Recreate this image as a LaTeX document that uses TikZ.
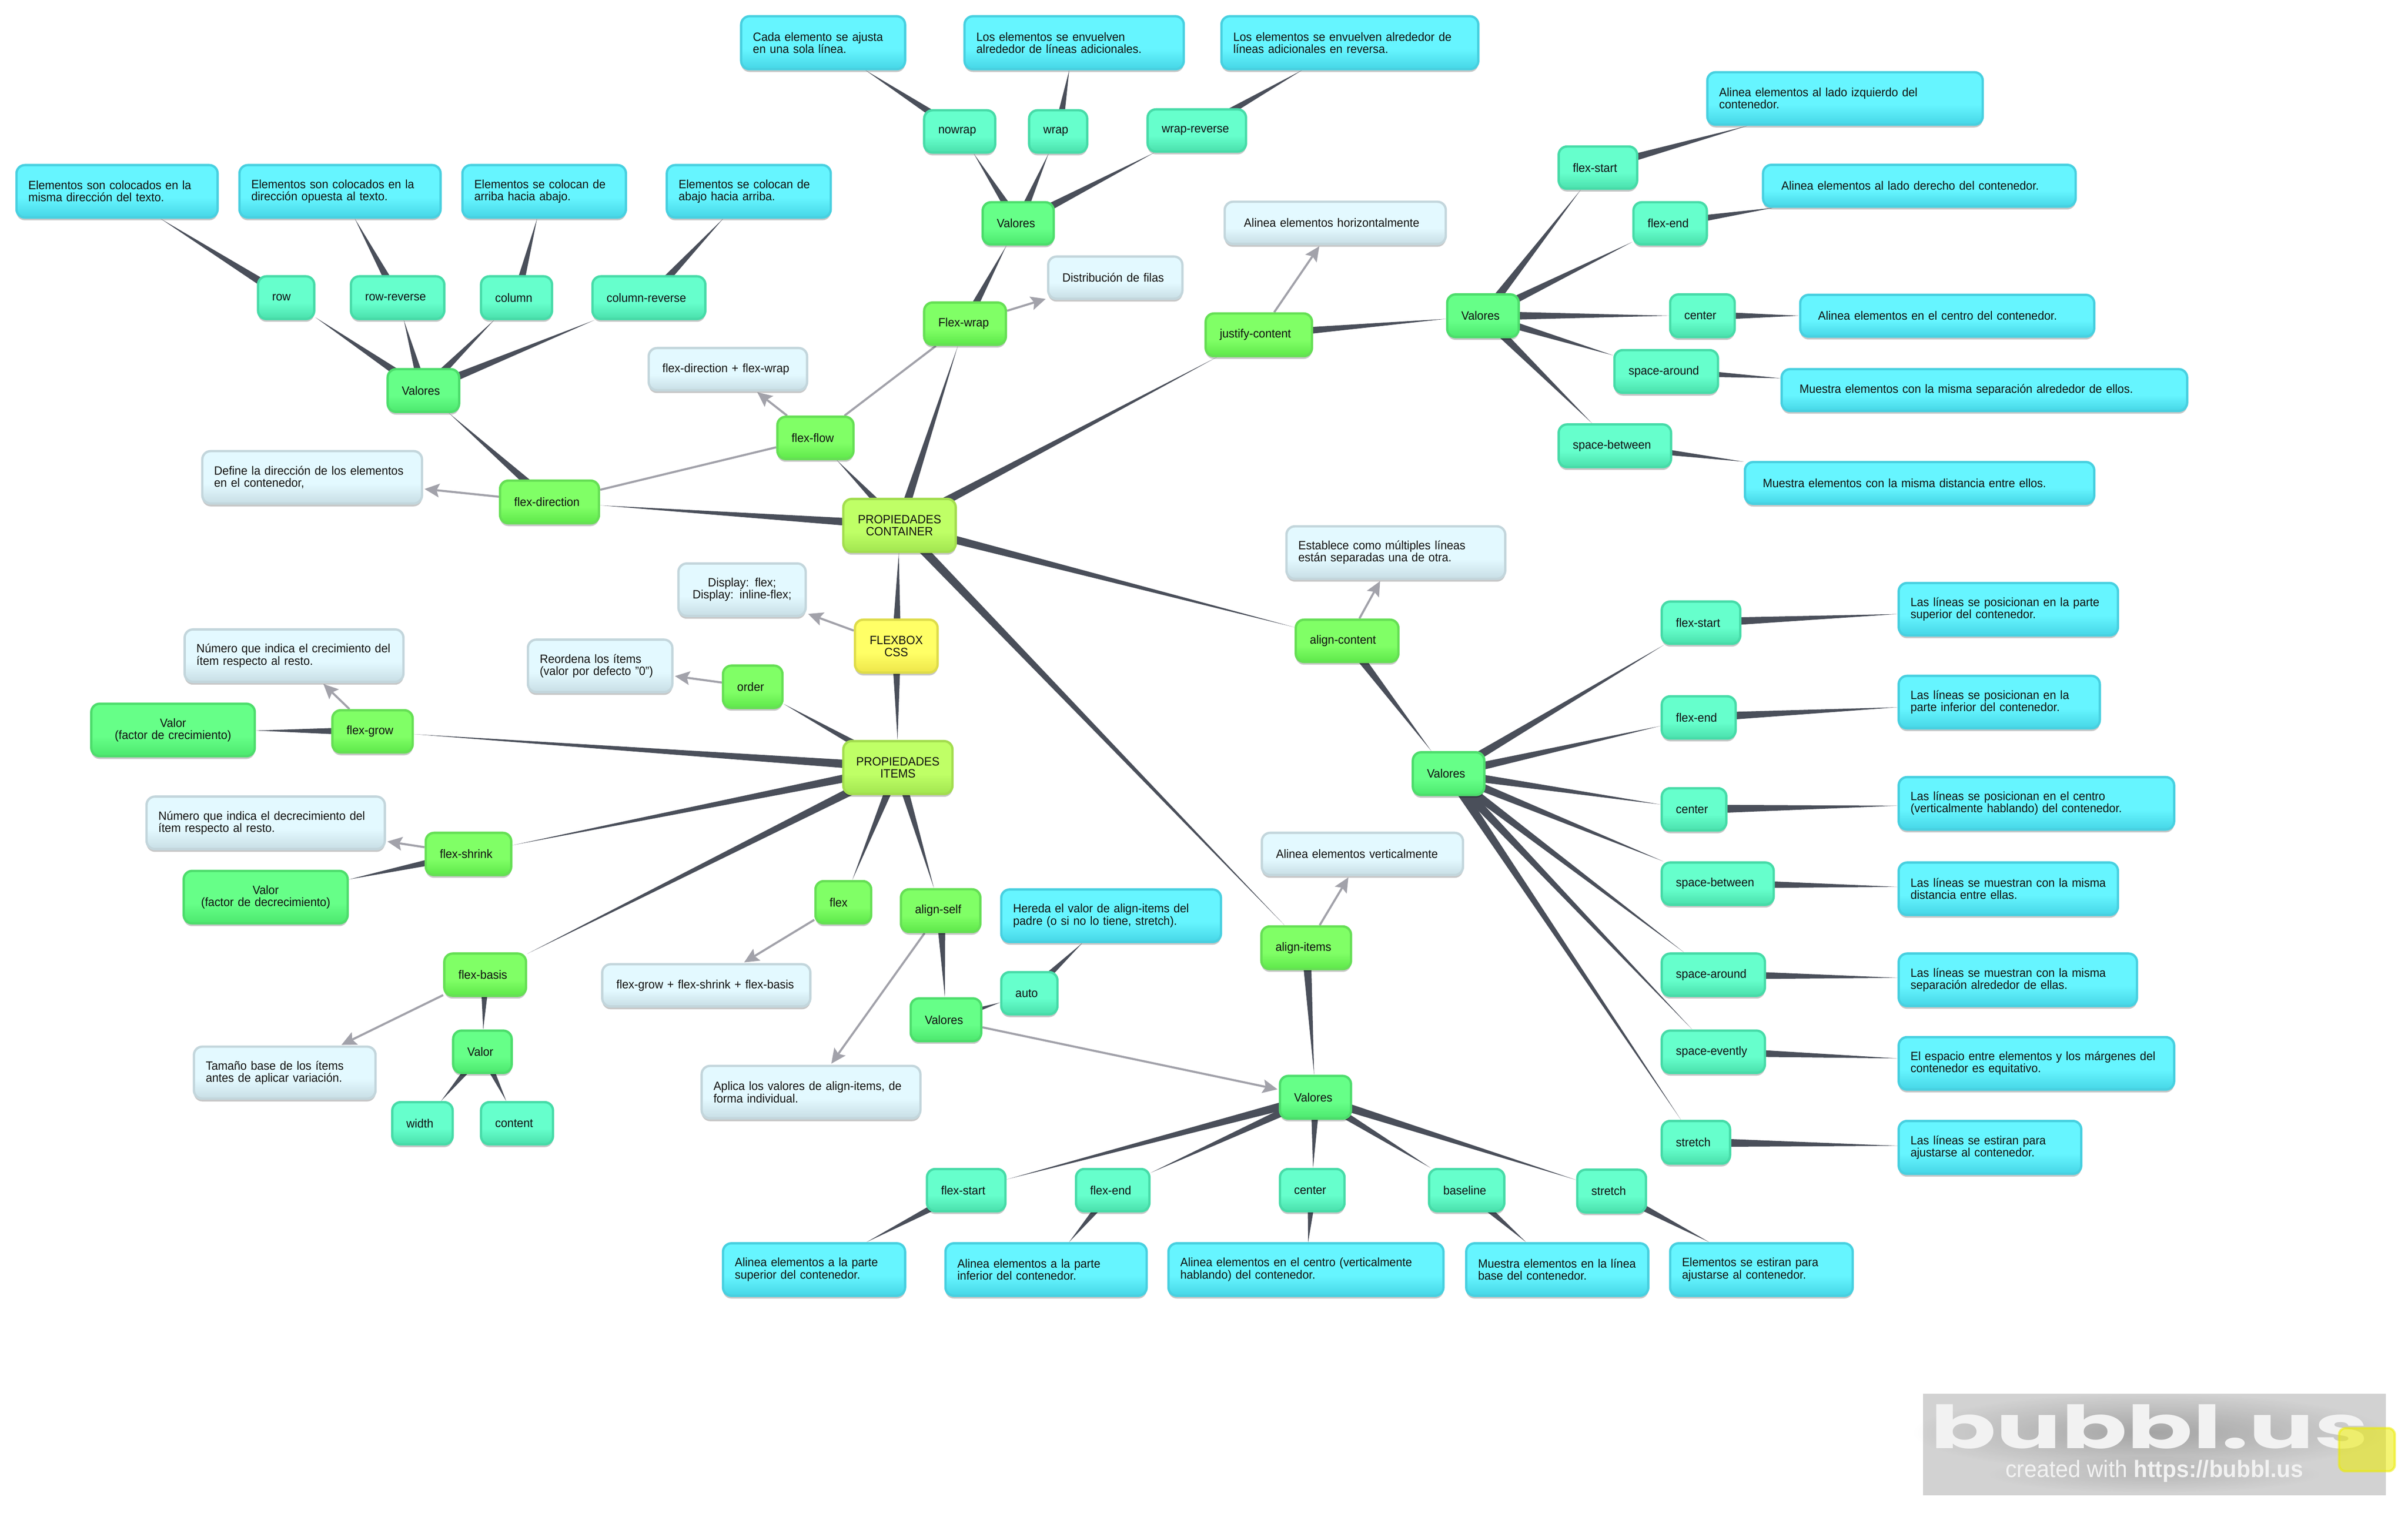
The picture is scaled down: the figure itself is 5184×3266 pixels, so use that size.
\documentclass[tikz,border=0pt]{standalone}
\usepackage{fontspec}
\setmainfont[FakeStretch=0.955]{Liberation Sans}
\newfontfamily\logofont{Poppins}
\usetikzlibrary{arrows.meta,backgrounds,calc,fadings,shadows}

\definecolor{azulA}{HTML}{66F5FF}
\definecolor{azulB}{HTML}{46D6E6}
\definecolor{azulC}{HTML}{48D0E0}
\definecolor{tealA}{HTML}{66FFCC}
\definecolor{tealB}{HTML}{4AE0AC}
\definecolor{tealC}{HTML}{47DBA8}
\definecolor{grupoA}{HTML}{66FF88}
\definecolor{grupoB}{HTML}{4CE86E}
\definecolor{grupoC}{HTML}{4DDD6C}
\definecolor{propA}{HTML}{80FF66}
\definecolor{propB}{HTML}{5EE84A}
\definecolor{propC}{HTML}{66DF55}
\definecolor{notaA}{HTML}{E3F9FF}
\definecolor{notaB}{HTML}{C8DEE5}
\definecolor{notaC}{HTML}{C3D6DC}
\definecolor{raizA}{HTML}{BFFF66}
\definecolor{raizB}{HTML}{A2E650}
\definecolor{raizC}{HTML}{A3DD4F}
\definecolor{inicioA}{HTML}{FFFF66}
\definecolor{inicioB}{HTML}{EEE64A}
\definecolor{inicioC}{HTML}{DEDC4A}
\definecolor{ramagris}{HTML}{4A4F5A}
\definecolor{flechagris}{HTML}{A2A2AA}
\definecolor{tinta}{HTML}{111111}
\definecolor{logofondo}{HTML}{D2D2D2}
\definecolor{logoletra}{HTML}{F2F2F2}
\definecolor{logoamarillo}{HTML}{ECEC00}
\colorlet{burA}{white}
\colorlet{burB}{white}

\pgfdeclareverticalshading[burA,burB]{burbujafondo}{100bp}{color(0bp)=(burB); color(25bp)=(burB); color(44bp)=(burA); color(100bp)=(burA)}
\tikzfading[name=halo, inner color=transparent!0, outer color=transparent!100]

\newcommand{\nodefont}{\fontsize{26}{26}\selectfont\exhyphenpenalty=10000\hyphenpenalty=10000}

\tikzset{
  burbuja/.style n args={3}{/utils/exec={\colorlet{burA}{#1}\colorlet{burB}{#2}}, draw=#3, shade, shading=burbujafondo,
    line width=5pt, rounded corners=18pt, inner sep=0pt, text=tinta, font=\nodefont, align=left,
    drop shadow={shadow xshift=0pt, shadow yshift=-6pt, opacity=.22, fill=black}},
  caja/.style n args={3}{minimum width=#1pt-5pt, minimum height=#2pt-5pt, text width=#1pt-#3pt-#3pt},
  texto/.style={burbuja={azulA}{azulB}{azulC}},
  opcion/.style={burbuja={tealA}{tealB}{tealC}},
  grupo/.style={burbuja={grupoA}{grupoB}{grupoC}},
  prop/.style={burbuja={propA}{propB}{propC}},
  nota/.style={burbuja={notaA}{notaB}{notaC}},
  raiz/.style={burbuja={raizA}{raizB}{raizC}, align=center},
  inicio/.style={burbuja={inicioA}{inicioB}{inicioC}, align=center},
  rama/.style={draw=none, fill=ramagris, to path={
    \pgfextra{\path (\tikztostart.center) -- (\tikztotarget) coordinate[pos=1] (tip);}
    ($(\tikztostart.center)!10pt!90:(tip)$) -- ($(\tikztostart.center)!10pt!-90:(tip)$) -- (tip) -- cycle}},
  enlace/.style={draw=flechagris, line width=4.5pt},
  flecha/.style={enlace, -{Stealth[length=32pt,width=30pt,inset=6pt,line width=0pt]}, shorten >=3pt}
}

\begin{document}
\begin{tikzpicture}[x=1pt,y=-1pt]
  \useasboundingbox (0,0) rectangle (5184,3266);

  % centro
  \node (flexbox)[inicio, caja={183}{119}{10}] at (1929.5,1391.5) {FLEXBOX\\CSS};
  \node (container)[raiz, caja={247}{119}{10}] at (1936.5,1131.5) {PROPIEDADES\\CONTAINER};
  \node (items)[raiz, caja={240}{119}{10}] at (1933,1653) {PROPIEDADES\\ITEMS};
  \node (nFlexbox)[nota, align=center, caja={279}{118}{10}] at (1597.5,1270) {Display: flex;\\Display: inline-flex;};

  % flex-direction
  \node (pDirection)[prop, caja={218}{97}{33}] at (1183,1081) {flex-direction};
  \node (nDefine)[nota, caja={478}{118}{28}] at (672,1028) {Define la dirección de los elementos\\en el contenedor,};
  \node (vDir)[grupo, caja={159}{97}{33}] at (911.5,841) {Valores};
  \node (oRow)[opcion, caja={126}{97}{33}] at (616,641) {row};
  \node (oRowRev)[opcion, caja={206}{97}{33}] at (856,641) {row-reverse};
  \node (oColumn)[opcion, caja={158}{97}{33}] at (1112,641) {column};
  \node (oColumnRev)[opcion, caja={248}{97}{33}] at (1397,641) {column-reverse};
  \node (tRow)[texto, caja={438}{118}{28}] at (252,412) {Elementos son colocados en la\\misma dirección del texto.};
  \node (tRowRev)[texto, caja={438}{118}{28}] at (732,412) {Elementos son colocados en la\\dirección opuesta al texto.};
  \node (tColumn)[texto, caja={357}{118}{28}] at (1171.5,412) {Elementos se colocan de\\arriba hacia abajo.};
  \node (tColumnRev)[texto, caja={358}{118}{28}] at (1612,412) {Elementos se colocan de\\abajo hacia arriba.};

  % flex-flow
  \node (pFlow)[prop, caja={169}{96}{33}] at (1755.5,943) {flex-flow};
  \node (nFlow)[nota, caja={346}{96}{32}] at (1567,795) {flex-direction + flex-wrap};

  % flex-wrap
  \node (pWrap)[prop, caja={181}{96}{33}] at (2077.5,697) {Flex-wrap};
  \node (nWrap)[nota, caja={294}{96}{33}] at (2401,598) {Distribución de filas};
  \node (vWrap)[grupo, caja={158}{96}{33}] at (2192,481) {Valores};
  \node (oNowrap)[opcion, caja={158}{96}{33}] at (2066,283) {nowrap};
  \node (oWrap)[opcion, caja={130}{96}{33}] at (2278,283) {wrap};
  \node (oWrapRev)[opcion, caja={217}{96}{33}] at (2576.5,281) {wrap-reverse};
  \node (tNowrap)[texto, caja={358}{119}{28}] at (1772,92) {Cada elemento se ajusta\\en una sola línea.};
  \node (tWrap)[texto, caja={477}{119}{28}] at (2312.5,92) {Los elementos se envuelven\\alrededor de líneas adicionales.};
  \node (tWrapRev)[texto, caja={558}{119}{28}] at (2906,92) {Los elementos se envuelven alrededor de\\líneas adicionales en reversa.};

  % justify-content
  \node (pJustify)[prop, caja={234}{97}{33}] at (2710,721) {justify-content};
  \node (nJustify)[nota, caja={481}{96}{44}] at (2874.5,480) {Alinea elementos horizontalmente};
  \node (vJustify)[grupo, caja={159}{97}{33}] at (3192.5,680) {Valores};
  \node (oJStart)[opcion, caja={174}{96}{33}] at (3440,361) {flex-start};
  \node (oJEnd)[opcion, caja={163}{96}{33}] at (3595.5,481) {flex-end};
  \node (oJCenter)[opcion, caja={144}{97}{33}] at (3665,680) {center};
  \node (oJAround)[opcion, caja={228}{97}{33}] at (3587,800) {space-around};
  \node (oJBetween)[opcion, caja={247}{97}{33}] at (3476.5,960) {space-between};
  \node (tJStart)[texto, caja={598}{118}{28}] at (3972,212) {Alinea elementos al lado izquierdo del\\contenedor.};
  \node (tJEnd)[texto, caja={678}{95}{42}] at (4132,400) {Alinea elementos al lado derecho del contenedor.};
  \node (tJCenter)[texto, caja={638}{95}{41}] at (4192,680) {Alinea elementos en el centro del contenedor.};
  \node (tJAround)[texto, caja={878}{95}{41}] at (4272,840) {Muestra elementos con la misma separación alrededor de ellos.};
  \node (tJBetween)[texto, caja={757}{95}{41}] at (4132.5,1040) {Muestra elementos con la misma distancia entre ellos.};

  % align-content
  \node (pContent)[prop, caja={226}{96}{33}] at (2900,1380) {align-content};
  \node (nContent)[nota, caja={476}{118}{28}] at (3005,1190) {Establece como múltiples líneas\\están separadas una de otra.};
  \node (vContent)[grupo, caja={159}{97}{33}] at (3118.5,1666) {Valores};
  \node (oCStart)[opcion, caja={174}{96}{33}] at (3662,1341) {flex-start};
  \node (oCEnd)[opcion, caja={164}{96}{33}] at (3657,1545) {flex-end};
  \node (oCCenter)[opcion, caja={144}{96}{33}] at (3647,1743) {center};
  \node (oCBetween)[opcion, caja={246}{96}{33}] at (3698,1903) {space-between};
  \node (oCAround)[opcion, caja={227}{96}{33}] at (3688.5,2099) {space-around};
  \node (oCEvenly)[opcion, caja={227}{96}{33}] at (3688.5,2265) {space-evently};
  \node (oCStretch)[opcion, caja={152}{97}{33}] at (3651,2460) {stretch};
  \node (tCStart)[texto, caja={477}{118}{28}] at (4323.5,1312) {Las líneas se posicionan en la parte\\superior del contenedor.};
  \node (tCEnd)[texto, caja={438}{118}{28}] at (4304,1512) {Las líneas se posicionan en la\\parte inferior del contenedor.};
  \node (tCCenter)[texto, caja={598}{118}{28}] at (4384,1730) {Las líneas se posicionan en el centro\\(verticalmente hablando) del contenedor.};
  \node (tCBetween)[texto, caja={477}{118}{28}] at (4323.5,1914) {Las líneas se muestran con la misma\\distancia entre ellas.};
  \node (tCAround)[texto, caja={518}{118}{28}] at (4344,2110) {Las líneas se muestran con la misma\\separación alrededor de ellas.};
  \node (tCEvenly)[texto, caja={598}{118}{28}] at (4384,2290) {El espacio entre elementos y los márgenes del\\contenedor es equitativo.};
  \node (tCStretch)[texto, caja={398}{119}{28}] at (4284,2471) {Las líneas se estiran para\\ajustarse al contenedor.};

  % align-items
  \node (pAlignItems)[prop, caja={198}{97}{33}] at (2812,2041) {align-items};
  \node (nItems)[nota, caja={438}{96}{33}] at (2933,1839) {Alinea elementos verticalmente};
  \node (vItems)[grupo, caja={158}{97}{33}] at (2832,2363) {Valores};
  \node (oIStart)[opcion, caja={174}{96}{33}] at (2080,2563) {flex-start};
  \node (oIEnd)[opcion, caja={163}{96}{33}] at (2395.5,2563) {flex-end};
  \node (oICenter)[opcion, caja={144}{96}{33}] at (2825,2563) {center};
  \node (oIBase)[opcion, caja={167}{96}{33}] at (3157.5,2563) {baseline};
  \node (oIStretch)[opcion, caja={153}{97}{33}] at (3469.5,2565) {stretch};
  \node (tIStart)[texto, caja={397}{118}{28}] at (1752.5,2734) {Alinea elementos a la parte\\superior del contenedor.};
  \node (tIEnd)[texto, caja={438}{118}{28}] at (2252,2734) {Alinea elementos a la parte\\inferior del contenedor.};
  \node (tICenter)[texto, caja={597}{118}{28}] at (2811.5,2734) {Alinea elementos en el centro (verticalmente\\hablando) del contenedor.};
  \node (tIBase)[texto, caja={397}{118}{28}] at (3352.5,2734) {Muestra elementos en la línea\\base del contenedor.};
  \node (tIStretch)[texto, caja={398}{118}{28}] at (3792,2734) {Elementos se estiran para\\ajustarse al contenedor.};

  % items
  \node (pOrder)[prop, caja={133}{96}{33}] at (1620.5,1479) {order};
  \node (nOrder)[nota, caja={316}{118}{28}] at (1292,1434) {Reordena los ítems\\(valor por defecto "0")};
  \node (pGrow)[prop, caja={178}{96}{33}] at (802,1575) {flex-grow};
  \node (nGrow)[nota, caja={476}{118}{28}] at (633,1412) {Número que indica el crecimiento del\\ítem respecto al resto.};
  \node (vGrow)[grupo, align=center, caja={357}{118}{10}] at (372.5,1572) {Valor\\(factor de crecimiento)};
  \node (pShrink)[prop, caja={189}{96}{33}] at (1008.5,1839) {flex-shrink};
  \node (nShrink)[nota, caja={518}{118}{28}] at (572,1772) {Número que indica el decrecimiento del\\ítem respecto al resto.};
  \node (vShrink)[grupo, align=center, caja={358}{118}{10}] at (572,1932) {Valor\\(factor de decrecimiento)};
  \node (pBasis)[prop, caja={181}{96}{33}] at (1044.5,2099) {flex-basis};
  \node (nBasis)[nota, caja={396}{117}{28}] at (613,2310) {Tamaño base de los ítems\\antes de aplicar variación.};
  \node (vBasis)[grupo, caja={131}{96}{33}] at (1038.5,2265) {Valor};
  \node (oWidth)[opcion, caja={135}{96}{33}] at (909.5,2419) {width};
  \node (oContent)[opcion, caja={160}{96}{33}] at (1113,2419) {content};
  \node (pFlex)[prop, caja={125}{96}{33}] at (1815.5,1943) {flex};
  \node (nFlexSum)[nota, caja={453}{96}{33}] at (1520.5,2122) {flex-grow + flex-shrink + flex-basis};
  \node (pSelf)[prop, caja={176}{97}{33}] at (2025,1961) {align-self};
  \node (nSelf)[nota, caja={476}{118}{28}] at (1746,2352) {Aplica los valores de align-items, de\\forma individual.};
  \node (vSelf)[grupo, caja={157}{97}{33}] at (2036.5,2196) {Valores};
  \node (oAuto)[opcion, caja={126}{96}{33}] at (2216,2139) {auto};
  \node (tAuto)[texto, caja={478}{118}{28}] at (2392,1972) {Hereda el valor de align-items del\\padre (o si no lo tiene, stretch).};

  \begin{scope}[on background layer]
    \fill[white] (0,0) rectangle (5184,3266);
    % ramas
    \path (flexbox) edge[rama] (container);
    \path (flexbox) edge[rama] (items);
    \path (container) edge[rama] (pDirection);
    \path (container) edge[rama] (pFlow);
    \path (container) edge[rama] (pWrap);
    \path (container) edge[rama] (pJustify);
    \path (container) edge[rama] (pContent);
    \path (container) edge[rama] (pAlignItems);
    \path (pDirection) edge[rama] (vDir);
    \path (vDir) edge[rama] (oRow);
    \path (vDir) edge[rama] (oRowRev);
    \path (vDir) edge[rama] (oColumn);
    \path (vDir) edge[rama] (oColumnRev);
    \path (oRow) edge[rama] (tRow);
    \path (oRowRev) edge[rama] (tRowRev);
    \path (oColumn) edge[rama] (tColumn);
    \path (oColumnRev) edge[rama] (tColumnRev);
    \path (pWrap) edge[rama] (vWrap);
    \path (vWrap) edge[rama] (oNowrap);
    \path (vWrap) edge[rama] (oWrap);
    \path (vWrap) edge[rama] (oWrapRev);
    \path (oNowrap) edge[rama] (tNowrap);
    \path (oWrap) edge[rama] (tWrap);
    \path (oWrapRev) edge[rama] (tWrapRev);
    \path (pJustify) edge[rama] (vJustify);
    \path (vJustify) edge[rama] (oJStart);
    \path (vJustify) edge[rama] (oJEnd);
    \path (vJustify) edge[rama] (oJCenter);
    \path (vJustify) edge[rama] (oJAround);
    \path (vJustify) edge[rama] (oJBetween);
    \path (oJStart) edge[rama] (tJStart);
    \path (oJEnd) edge[rama] (tJEnd);
    \path (oJCenter) edge[rama] (tJCenter);
    \path (oJAround) edge[rama] (tJAround);
    \path (oJBetween) edge[rama] (tJBetween);
    \path (pContent) edge[rama] (vContent);
    \path (vContent) edge[rama] (oCStart);
    \path (vContent) edge[rama] (oCEnd);
    \path (vContent) edge[rama] (oCCenter);
    \path (vContent) edge[rama] (oCBetween);
    \path (vContent) edge[rama] (oCAround);
    \path (vContent) edge[rama] (oCEvenly);
    \path (vContent) edge[rama] (oCStretch);
    \path (oCStart) edge[rama] (tCStart);
    \path (oCEnd) edge[rama] (tCEnd);
    \path (oCCenter) edge[rama] (tCCenter);
    \path (oCBetween) edge[rama] (tCBetween);
    \path (oCAround) edge[rama] (tCAround);
    \path (oCEvenly) edge[rama] (tCEvenly);
    \path (oCStretch) edge[rama] (tCStretch);
    \path (pAlignItems) edge[rama] (vItems);
    \path (vItems) edge[rama] (oIStart);
    \path (vItems) edge[rama] (oIEnd);
    \path (vItems) edge[rama] (oICenter);
    \path (vItems) edge[rama] (oIBase);
    \path (vItems) edge[rama] (oIStretch);
    \path (oIStart) edge[rama] (tIStart);
    \path (oIEnd) edge[rama] (tIEnd);
    \path (oICenter) edge[rama] (tICenter);
    \path (oIBase) edge[rama] (tIBase);
    \path (oIStretch) edge[rama] (tIStretch);
    \path (items) edge[rama] (pOrder);
    \path (items) edge[rama] (pGrow);
    \path (items) edge[rama] (pShrink);
    \path (items) edge[rama] (pBasis);
    \path (items) edge[rama] (pFlex);
    \path (items) edge[rama] (pSelf);
    \path (pGrow) edge[rama] (vGrow);
    \path (pShrink) edge[rama] (vShrink);
    \path (pBasis) edge[rama] (vBasis);
    \path (vBasis) edge[rama] (oWidth);
    \path (vBasis) edge[rama] (oContent);
    \path (pSelf) edge[rama] (vSelf);
    \path (vSelf) edge[rama] (oAuto);
    \path (oAuto) edge[rama] (tAuto);
    % flechas
    \path (flexbox) edge[flecha] (nFlexbox);
    \path (pDirection) edge[flecha] (nDefine);
    \path (pFlow) edge[flecha] (nFlow);
    \path (pWrap) edge[flecha] (nWrap);
    \path (pJustify) edge[flecha] (nJustify);
    \path (pContent) edge[flecha] (nContent);
    \path (pAlignItems) edge[flecha] (nItems);
    \path (pOrder) edge[flecha] (nOrder);
    \path (pGrow) edge[flecha] (nGrow);
    \path (pShrink) edge[flecha] (nShrink);
    \path (pFlex) edge[flecha] (nFlexSum);
    \path (pBasis) edge[flecha] (nBasis);
    \path (pSelf) edge[flecha] (nSelf);
    \path (vSelf) edge[flecha] (vItems);
    \path (pDirection) edge[enlace] (pFlow);
    \path (pFlow) edge[enlace] (pWrap);
  \end{scope}

  % marca
  \fill[logofondo] (4140,3002) rectangle (5136,3220);
  \fill[black, opacity=.22, path fading=halo] (4627,3085) ellipse (510 and 85);
  \fill[black, opacity=.12, path fading=halo] (4638,3175) ellipse (360 and 40);
  \node (logoMarca)[text=logoletra, inner sep=0pt, font=\fontsize{128}{128}\logofont\bfseries\selectfont, xscale=1.63, transform shape] at (4627,3072) {bubbl.us};
  \node (logoPie)[text=logoletra, inner sep=0pt, font=\fontsize{51}{51}\selectfont] at (4638,3168) {created with \textbf{https://bubbl.us}};
  \node (logoNota)[draw=logoamarillo, fill=logoamarillo, opacity=.55, line width=5pt, rounded corners=14pt, minimum width=120pt, minimum height=93pt] at (5095.5,3122) {};
\end{tikzpicture}
\end{document}
